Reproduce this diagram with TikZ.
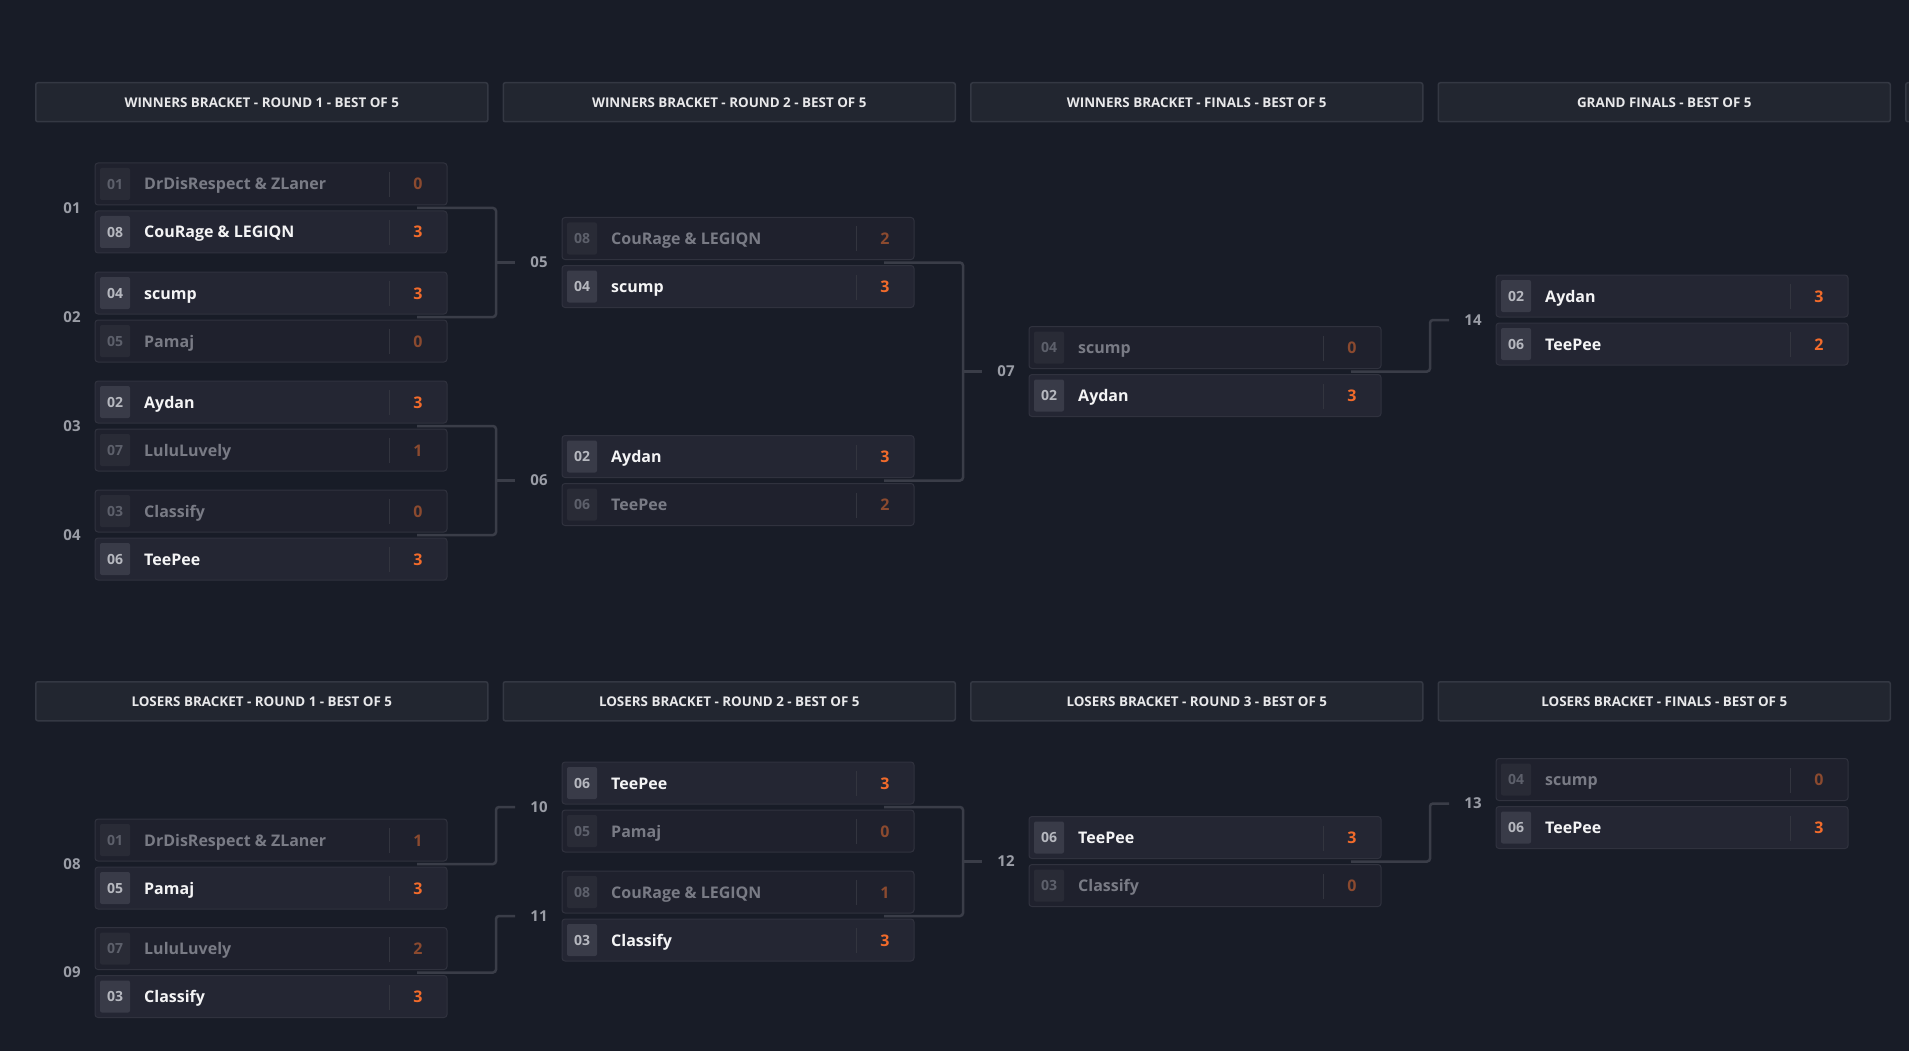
\documentclass[tikz,border=0pt]{standalone}
\usepackage{fontspec}
\setmainfont{Open Sans}
\usetikzlibrary{calc}
\definecolor{bg}{HTML}{181C27}
\definecolor{hdrfill}{HTML}{222630}
\definecolor{hdrline}{HTML}{343843}
\definecolor{hdrtext}{HTML}{E8E8EA}
\definecolor{rowwinfill}{HTML}{242633}
\definecolor{rowlosefill}{HTML}{1F212D}
\definecolor{rowline}{HTML}{30323E}
\definecolor{seedwinfill}{HTML}{393B48}
\definecolor{seedlosefill}{HTML}{292B36}
\definecolor{seedwintext}{HTML}{B6B8BF}
\definecolor{seedlosetext}{HTML}{5D606B}
\definecolor{teamwintext}{HTML}{F4F4F5}
\definecolor{teamlosetext}{HTML}{797B85}
\definecolor{scorewin}{HTML}{F26B2B}
\definecolor{scorelose}{HTML}{8B4A2F}
\definecolor{divline}{HTML}{33353F}
\definecolor{conncol}{HTML}{3A3D48}
\definecolor{lbltext}{HTML}{9A9DA6}
\tikzset{
  hdrbox/.style={draw=hdrline, fill=hdrfill, line width=1.5pt, rounded corners=2pt,
    minimum width=452pt, minimum height=39pt, inner sep=0pt, anchor=north west,
    text=hdrtext, font=\fontsize{13.4}{14}\selectfont\bfseries},
  rowbox/.style={draw=rowline, line width=1pt, rounded corners=3pt,
    minimum width=352pt, minimum height=42pt, inner sep=0pt, outer sep=0pt},
  rowwin/.style={fill=rowwinfill},
  rowlose/.style={fill=rowlosefill},
  seedbox/.style={minimum width=30pt, minimum height=32pt, inner sep=0pt, rounded corners=2pt,
    font=\fontsize{14}{15}\selectfont\bfseries},
  seedwin/.style={fill=seedwinfill, text=seedwintext},
  seedlose/.style={fill=seedlosefill, text=seedlosetext},
  teamtxt/.style={inner sep=0pt, font=\fontsize{16}{18}\selectfont\bfseries},
  teamwin/.style={text=teamwintext},
  teamlose/.style={text=teamlosetext},
  scoretxt/.style={inner sep=0pt, font=\fontsize{16}{18}\selectfont\bfseries},
  scorewin/.style={text=scorewin},
  scorelose/.style={text=scorelose},
  divider/.style={draw=divline, line width=1pt},
  lbl/.style={inner sep=0pt, text=lbltext, font=\fontsize{15}{16}\selectfont\bfseries},
  conn/.style={draw=conncol, line width=2.5pt, rounded corners=3pt},
}
\newcommand\trow[7]{%
  \node[rowbox,row#7,anchor=north west] (#1) at (#2,#3) {};
  \node[seedbox,seed#7] (#1s) at ([xshift=20pt]#1.west) {#4};
  \node[teamtxt,team#7,anchor=base west] (#1n) at ([xshift=49pt,yshift=-6pt]#1.west) {#5};
  \draw[divider] ([xshift=294pt,yshift=-9pt]#1.north west) -- ([xshift=294pt,yshift=8pt]#1.south west);
  \node[scoretxt,score#7,anchor=base] (#1c) at ([xshift=323pt,yshift=-6pt]#1.west) {#6};
}
\newcommand\mlabel[4]{%
  \node[lbl] (l#1) at ($(#2,#3)+(-23,0)$) {#4};
  \coordinate (m#1) at ($(#2,#3)+(337,0)$);
  \coordinate (i#1) at ($(#2,#3)+(-47,0)$);
  \coordinate (j#1) at ($(#2,#3)+(-66,0)$);
}
\begin{document}
\begin{tikzpicture}[x=1pt,y=-1pt]
\fill[bg] (0,0) rectangle (1909,1051);
\useasboundingbox (0,0) rectangle (1909,1051);
% headers
\node[hdrbox] (h1) at (35,82) {WINNERS BRACKET - ROUND 1 - BEST OF 5};
\node[hdrbox] (h2) at (502.5,82) {WINNERS BRACKET - ROUND 2 - BEST OF 5};
\node[hdrbox] (h3) at (970,82) {WINNERS BRACKET - FINALS - BEST OF 5};
\node[hdrbox] (h4) at (1437.5,82) {GRAND FINALS - BEST OF 5};
\node[hdrbox] (h5) at (1905,82) {};
\node[hdrbox] (g1) at (35,681) {LOSERS BRACKET - ROUND 1 - BEST OF 5};
\node[hdrbox] (g2) at (502.5,681) {LOSERS BRACKET - ROUND 2 - BEST OF 5};
\node[hdrbox] (g3) at (970,681) {LOSERS BRACKET - ROUND 3 - BEST OF 5};
\node[hdrbox] (g4) at (1437.5,681) {LOSERS BRACKET - FINALS - BEST OF 5};
% match labels and anchor coordinates
\mlabel{01}{95}{208}{01}
\mlabel{02}{95}{317}{02}
\mlabel{03}{95}{426}{03}
\mlabel{04}{95}{535}{04}
\mlabel{05}{562}{262.5}{05}
\mlabel{06}{562}{480.5}{06}
\mlabel{07}{1029}{371.5}{07}
\mlabel{14}{1496}{320}{14}
\mlabel{08}{95}{864}{08}
\mlabel{09}{95}{972.5}{09}
\mlabel{10}{562}{807}{10}
\mlabel{11}{562}{916}{11}
\mlabel{12}{1029}{861.5}{12}
\mlabel{13}{1496}{803.5}{13}
% connectors
\draw[conn] ([xshift=-15pt]m01) -| (j05) |- ([xshift=-15pt]m02);
\draw[conn] (j05) -- (i05);
\draw[conn] ([xshift=-15pt]m03) -| (j06) |- ([xshift=-15pt]m04);
\draw[conn] (j06) -- (i06);
\draw[conn] ([xshift=-15pt]m05) -| (j07) |- ([xshift=-15pt]m06);
\draw[conn] (j07) -- (i07);
\draw[conn] ([xshift=-15pt]m07) -| (j14) -- (i14);
\draw[conn] ([xshift=-15pt]m08) -| (j10) -- (i10);
\draw[conn] ([xshift=-15pt]m09) -| (j11) -- (i11);
\draw[conn] ([xshift=-15pt]m10) -| (j12) |- ([xshift=-15pt]m11);
\draw[conn] (j12) -- (i12);
\draw[conn] ([xshift=-15pt]m12) -| (j13) -- (i13);
% winners round 1
\trow{r01a}{95}{163}{01}{DrDisRespect \& ZLaner}{0}{lose}
\trow{r01b}{95}{211}{08}{CouRage \& LEGIQN}{3}{win}
\trow{r02a}{95}{272}{04}{scump}{3}{win}
\trow{r02b}{95}{320}{05}{Pamaj}{0}{lose}
\trow{r03a}{95}{381}{02}{Aydan}{3}{win}
\trow{r03b}{95}{429}{07}{LuluLuvely}{1}{lose}
\trow{r04a}{95}{490}{03}{Classify}{0}{lose}
\trow{r04b}{95}{538}{06}{TeePee}{3}{win}
% winners round 2
\trow{r05a}{562}{217.5}{08}{CouRage \& LEGIQN}{2}{lose}
\trow{r05b}{562}{265.5}{04}{scump}{3}{win}
\trow{r06a}{562}{435.5}{02}{Aydan}{3}{win}
\trow{r06b}{562}{483.5}{06}{TeePee}{2}{lose}
% winners finals
\trow{r07a}{1029}{326.5}{04}{scump}{0}{lose}
\trow{r07b}{1029}{374.5}{02}{Aydan}{3}{win}
% grand finals
\trow{r14a}{1496}{275}{02}{Aydan}{3}{win}
\trow{r14b}{1496}{323}{06}{TeePee}{2}{win}
% losers round 1
\trow{r08a}{95}{819}{01}{DrDisRespect \& ZLaner}{1}{lose}
\trow{r08b}{95}{867}{05}{Pamaj}{3}{win}
\trow{r09a}{95}{927.5}{07}{LuluLuvely}{2}{lose}
\trow{r09b}{95}{975.5}{03}{Classify}{3}{win}
% losers round 2
\trow{r10a}{562}{762}{06}{TeePee}{3}{win}
\trow{r10b}{562}{810}{05}{Pamaj}{0}{lose}
\trow{r11a}{562}{871}{08}{CouRage \& LEGIQN}{1}{lose}
\trow{r11b}{562}{919}{03}{Classify}{3}{win}
% losers round 3
\trow{r12a}{1029}{816.5}{06}{TeePee}{3}{win}
\trow{r12b}{1029}{864.5}{03}{Classify}{0}{lose}
% losers finals
\trow{r13a}{1496}{758.5}{04}{scump}{0}{lose}
\trow{r13b}{1496}{806.5}{06}{TeePee}{3}{win}
\end{tikzpicture}
\end{document}
